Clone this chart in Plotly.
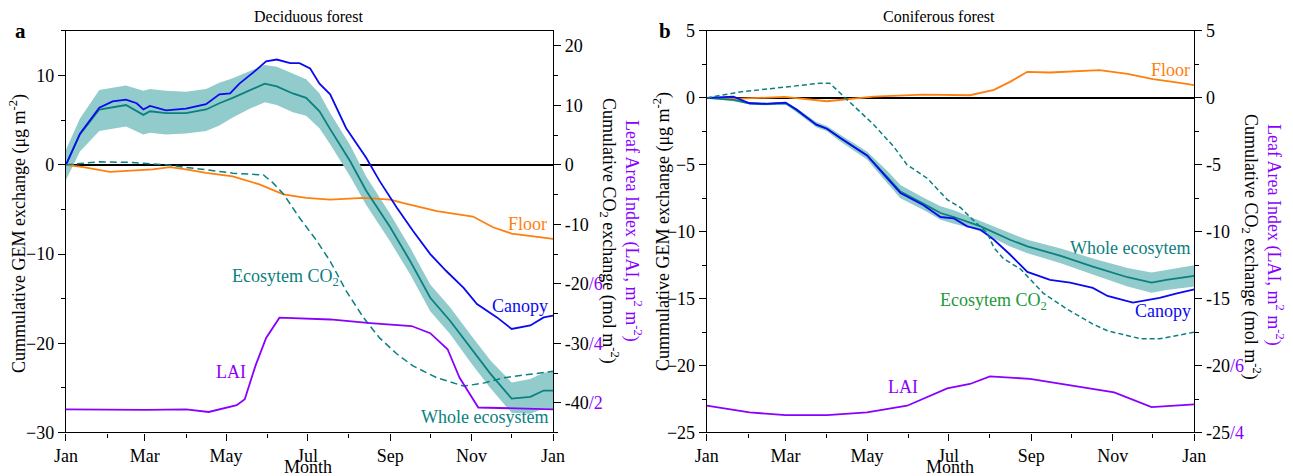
import plotly.graph_objects as go
import pandas as pd

# ---------------- Deciduous forest (panel a) ----------------
dec_we_day = [0, 10.5, 25, 45, 58, 63, 75, 90, 105, 115, 125, 138, 149, 158, 170, 180, 190, 198,
              213, 225, 243, 258, 273, 288, 303, 318, 334, 348, 358, 365]
dec_we = [0, 3.4, 6.2, 6.7, 5.6, 6.0, 5.8, 5.8, 6.2, 6.9, 7.5, 8.4, 9.1, 8.8, 8.0, 7.5, 6.0, 4.0,
          0.4, -2.9, -7.0, -10.8, -14.9, -17.5, -20.5, -23.4, -26.2, -26.0, -25.3, -25.3]
dec_we_up = [1.7, 5.2, 8.4, 8.9, 8.3, 8.5, 8.3, 8.2, 8.5, 9.2, 9.7, 10.5, 11.2, 11.0, 10.2, 9.6, 8.0, 5.8,
             2.2, -1.3, -5.5, -9.3, -13.4, -16.0, -19.0, -21.9, -24.4, -24.0, -23.3, -23.2]
dec_we_lo = [-1.7, 1.5, 3.8, 4.3, 3.4, 3.6, 3.4, 3.5, 3.8, 4.4, 5.3, 6.3, 7.0, 6.7, 5.9, 5.5, 4.1, 2.3,
             -1.3, -4.5, -8.6, -12.3, -16.4, -19.0, -22.1, -25.0, -27.8, -27.9, -27.3, -27.4]

dec_can_day = [0, 10.5, 25, 35, 45, 53, 58, 63, 75, 90, 105, 115, 123, 130, 140, 150, 158, 168, 175, 183,
               190, 198, 210, 225, 235, 248, 260, 273, 285, 298, 308, 323, 334, 348, 358, 365]
dec_can = [0, 3.5, 6.4, 7.1, 7.3, 6.9, 6.2, 6.6, 6.1, 6.3, 6.8, 7.9, 8.0, 9.1, 10.3, 11.6, 11.8, 11.4, 11.4, 10.8,
           9.1, 7.9, 4.1, 0.8, -1.8, -4.8, -7.4, -10.0, -11.9, -13.8, -15.6, -17.1, -18.4, -18.0, -17.1, -16.9]

dec_floor_day = [0, 13, 33, 50, 65, 78, 90, 105, 125, 145, 163, 180, 198, 223, 243, 253, 278, 305, 320, 334, 348, 365]
dec_floor = [0, -0.25, -0.8, -0.6, -0.5, -0.25, -0.5, -0.9, -1.3, -2.2, -3.3, -3.7, -3.9, -3.7, -3.9, -4.3,
             -5.2, -5.8, -7.0, -7.7, -8.0, -8.3]

dec_co2_day = [0, 25, 50, 75, 100, 125, 148, 155, 163, 175, 188, 198, 210, 223, 235, 248, 260, 278, 298,
               313, 328, 348, 365]
dec_co2 = [0, 0.5, 0.4, 0, -0.7, -1.4, -1.7, -3.0, -4.9, -8.9, -12.8, -16.2, -21.2, -25.7, -29.1, -31.8,
           -33.8, -35.8, -37.2, -36.7, -35.8, -35.2, -34.7]

dec_lai_day = [0, 60, 90, 107, 128, 134, 142, 150, 160, 198, 228, 259, 273, 286, 295, 309, 365]
dec_lai = [1.78, 1.76, 1.78, 1.69, 1.92, 2.12, 3.24, 4.18, 4.86, 4.8, 4.68, 4.58, 4.34, 3.8, 2.84, 1.84, 1.78]

# ---------------- Coniferous forest (panel b) ----------------
con_we_day = [0, 20, 32, 45, 59, 67, 82, 90, 100, 120, 135, 145, 162, 175, 185, 197, 205, 227, 240, 265,
              289, 315, 333, 344, 365]
con_we = [0, -0.15, -0.4, -0.45, -0.4, -0.9, -2.0, -2.3, -3.0, -4.3, -5.9, -7.0, -7.9, -8.6, -8.9, -9.3,
          -9.6, -10.6, -11.1, -11.8, -12.6, -13.4, -13.8, -13.6, -13.3]
con_we_up = [0.05, -0.05, -0.3, -0.35, -0.3, -0.75, -1.8, -2.1, -2.75, -4.0, -5.45, -6.5, -7.45, -8.1, -8.4,
             -8.9, -9.2, -10.1, -10.6, -11.25, -12.0, -12.7, -13.05, -12.85, -12.5]
con_we_lo = [-0.05, -0.25, -0.5, -0.55, -0.5, -1.05, -2.2, -2.5, -3.25, -4.6, -6.35, -7.5, -8.35, -9.1, -9.4,
             -9.7, -10.0, -11.1, -11.6, -12.35, -13.2, -14.1, -14.55, -14.35, -14.1]

con_can_day = [0, 20, 32, 45, 59, 67, 82, 90, 100, 120, 135, 145, 162, 175, 185, 195, 205, 215, 227, 240,
               257, 272, 289, 300, 319, 339, 352, 365]
con_can = [0, 0.1, -0.4, -0.45, -0.35, -0.85, -2.0, -2.3, -3.0, -4.3, -6.0, -7.1, -8.0, -8.9, -9.0, -9.6,
           -9.85, -10.6, -11.7, -13.0, -13.6, -13.8, -14.2, -14.8, -15.3, -14.95, -14.6, -14.3]

con_floor_day = [0, 25, 58, 90, 125, 162, 197, 215, 227, 240, 257, 274, 294, 315, 334, 349, 365]
con_floor = [0, -0.05, 0.07, -0.25, 0.1, 0.25, 0.2, 0.6, 1.2, 1.95, 1.9, 2.0, 2.07, 1.8, 1.4, 1.2, 0.95]

con_co2_day = [0, 25, 58, 85, 92, 105, 125, 140, 150, 165, 180, 190, 197, 210, 215, 222, 235, 252, 270,
               289, 300, 325, 339, 365]
con_co2 = [0, 0.45, 0.8, 1.1, 1.1, -0.15, -2.0, -3.65, -5.0, -6.0, -7.6, -8.2, -8.9, -10.1, -11.2, -12.0,
           -12.8, -14.6, -15.8, -16.9, -17.4, -18.0, -18.0, -17.5]

con_lai_day = [0, 32, 59, 90, 120, 150, 180, 197, 212, 242, 305, 333, 365]
con_lai = [4.8, 4.6, 4.52, 4.52, 4.6, 4.8, 5.32, 5.45, 5.68, 5.6, 5.2, 4.76, 4.84]

# ---------------- axis ticks ----------------
month_ticks = ["2014-01-01", "2014-03-01", "2014-05-01", "2014-07-01", "2014-09-01", "2014-11-01", "2015-01-01"]
month_labels = ["Jan", "Mar", "May", "Jul", "Sep", "Nov", "Jan"]
month_minor = ["2014-02-01", "2014-04-01", "2014-06-01", "2014-08-01", "2014-10-01", "2014-12-01"]

dec_gem_ticks = [-30, -20, -10, 0, 10]
dec_gem_minor = [-25, -15, -5, 5, 15]
dec_co2_ticks = [-40, -30, -20, -10, 0, 10, 20]
dec_co2_minor = [-45, -35, -25, -15, -5, 5, 15]
dec_lai_marks = {-40: "2", -30: "4", -20: "6"}

con_gem_ticks = [-25, -20, -15, -10, -5, 0, 5]
con_gem_minor = [-22.5, -17.5, -12.5, -7.5, -2.5, 2.5]
con_lai_marks = {-25: "4", -20: "6"}

BLUE = "#0a0af0"
ORANGE = "#ff7f0e"
TEAL = "#0b8080"
BAND = "rgb(145,203,203)"
PURPLE = "#8a00ff"
GREEN = "#22993a"
FONT = "Liberation Serif"


def d(days):
    return list(pd.Timestamp("2014-01-01") + pd.to_timedelta(days, unit="D"))


def tt(ticks, marks):
    out = []
    for t in ticks:
        s = f"{t:g}"
        if t in marks:
            s += f'<span style="color:{PURPLE}">/{marks[t]}</span>'
        out.append(s)
    return out


fig = go.Figure()


def add_panel(xa, ya_gem, ya_co2, ya_lai, we_day, we, up, lo, can_day, can, fl_day, fl,
              co2_day, co2, lai_day, lai, dash):
    fig.add_trace(go.Scatter(x=d(we_day), y=up, xaxis=xa, yaxis=ya_gem, mode="lines",
                             line=dict(width=0, color=BAND), hoverinfo="skip", showlegend=False))
    fig.add_trace(go.Scatter(x=d(we_day), y=lo, xaxis=xa, yaxis=ya_gem, mode="lines", fill="tonexty",
                             fillcolor=BAND, line=dict(width=0, color=BAND), showlegend=False))
    fig.add_trace(go.Scatter(x=d(fl_day), y=fl, xaxis=xa, yaxis=ya_gem, mode="lines",
                             line=dict(color=ORANGE, width=1.8), showlegend=False))
    fig.add_trace(go.Scatter(x=d(we_day), y=we, xaxis=xa, yaxis=ya_gem, mode="lines",
                             line=dict(color=TEAL, width=1.8), showlegend=False))
    fig.add_trace(go.Scatter(x=d(can_day), y=can, xaxis=xa, yaxis=ya_gem, mode="lines",
                             line=dict(color=BLUE, width=1.8), showlegend=False))
    fig.add_trace(go.Scatter(x=d(co2_day), y=co2, xaxis=xa, yaxis=ya_co2, mode="lines",
                             line=dict(color=TEAL, width=1.5, dash=dash), showlegend=False))
    fig.add_trace(go.Scatter(x=d(lai_day), y=lai, xaxis=xa, yaxis=ya_lai, mode="lines",
                             line=dict(color=PURPLE, width=1.8), showlegend=False))


add_panel("x", "y", "y2", "y3", dec_we_day, dec_we, dec_we_up, dec_we_lo, dec_can_day, dec_can,
          dec_floor_day, dec_floor, dec_co2_day, dec_co2, dec_lai_day, dec_lai, "7px,4px")
add_panel("x2", "y4", "y5", "y6", con_we_day, con_we, con_we_up, con_we_lo, con_can_day, con_can,
          con_floor_day, con_floor, con_co2_day, con_co2, con_lai_day, con_lai, "5px,3px")

tickfont = dict(family=FONT, size=18, color="black")
ydom = [0.0914, 0.9349]

xcommon = dict(type="date", range=["2014-01-01", "2015-01-01"], tickmode="array", tickvals=month_ticks,
               ticktext=month_labels, ticks="outside", ticklen=7, tickwidth=1.2, tickcolor="black",
               minor=dict(tickvals=month_minor, ticks="outside", ticklen=4, tickcolor="black"),
               showline=True, linecolor="black", linewidth=1.2, mirror=True, showgrid=False,
               zeroline=False, tickfont=tickfont, automargin=False)

ycommon = dict(tickmode="array", ticks="outside", ticklen=7, tickwidth=1.2, tickcolor="black",
               showline=True, linecolor="black", linewidth=1.2, showgrid=False, tickfont=tickfont,
               automargin=False)

fig.update_layout(
    width=1293, height=476, margin=dict(l=0, r=0, t=0, b=0, autoexpand=False),
    paper_bgcolor="white", plot_bgcolor="white", showlegend=False,
    font=dict(family=FONT, size=18, color="black"),
    xaxis=dict(domain=[0.051, 0.4277], anchor="y", **xcommon),
    xaxis2=dict(domain=[0.5466, 0.9237], anchor="y4", **xcommon),
    yaxis=dict(domain=ydom, anchor="x", range=[-30, 15], tickvals=dec_gem_ticks,
               minor=dict(tickvals=dec_gem_minor, ticks="outside", ticklen=4, tickcolor="black"),
               zeroline=True, zerolinecolor="black", zerolinewidth=1.5, **ycommon),
    yaxis2=dict(anchor="x", overlaying="y", side="right", range=[-45, 22.5], tickvals=dec_co2_ticks,
                ticktext=tt(dec_co2_ticks, dec_lai_marks),
                minor=dict(tickvals=dec_co2_minor, ticks="outside", ticklen=4, tickcolor="black"),
                zeroline=False, **ycommon),
    yaxis3=dict(anchor="x", overlaying="y", range=[1, 14.5], visible=False),
    yaxis4=dict(domain=ydom, anchor="x2", range=[-25, 5], tickvals=con_gem_ticks,
                minor=dict(tickvals=con_gem_minor, ticks="outside", ticklen=4, tickcolor="black"),
                zeroline=True, zerolinecolor="black", zerolinewidth=1.5, **ycommon),
    yaxis5=dict(anchor="x2", overlaying="y4", side="right", range=[-25, 5], tickvals=con_gem_ticks,
                ticktext=tt(con_gem_ticks, con_lai_marks),
                minor=dict(tickvals=con_gem_minor, ticks="outside", ticklen=4, tickcolor="black"),
                zeroline=False, **ycommon),
    yaxis6=dict(anchor="x2", overlaying="y4", range=[4, 16], visible=False),
)

ann = []


def A(text, x, y, xref="paper", yref="paper", color="black", size=18, xanchor="center",
      yanchor="middle", angle=0):
    ann.append(dict(text=text, x=x, y=y, xref=xref, yref=yref, showarrow=False,
                    font=dict(family=FONT, size=size, color=color), xanchor=xanchor,
                    yanchor=yanchor, textangle=angle))


W, H = 1293, 476
# titles and panel letters
A("Deciduous forest", 308 / W, 1 - 17 / H, size=16)
A("Coniferous forest", 939 / W, 1 - 17 / H, size=16)
A("<b>a</b>", 20 / W, 1 - 31 / H, size=21)
A("<b>b</b>", 665 / W, 1 - 31 / H, size=21)
A("Month", 308 / W, 1 - 467 / H)
A("Month", 950 / W, 1 - 467 / H)
# axis titles
A("Cummulative GEM exchange (μg m<sup>-2</sup>)", 18 / W, 1 - 234 / H, angle=-90)
A("Cummulative GEM exchange (μg m<sup>-2</sup>)", 662 / W, 1 - 232 / H, angle=-90)
A("Cumulative CO<sub>2</sub> exchange (mol m<sup>-2</sup>)", 610 / W, 1 - 231 / H, angle=90)
A("Leaf Area Index (LAI, m<sup>2</sup> m<sup>-2</sup>)", 633 / W, 1 - 231 / H, angle=90, color=PURPLE)
A("Cumulative CO<sub>2</sub> exchange (mol m<sup>-2</sup>)", 1252 / W, 1 - 247 / H, angle=90)
A("Leaf Area Index (LAI, m<sup>2</sup> m<sup>-2</sup>)", 1275 / W, 1 - 235 / H, angle=90, color=PURPLE)

# series labels, panel a
A("Floor", d([362])[0], -6.6, "x", "y", ORANGE, xanchor="right")
A("Canopy", d([363])[0], -15.8, "x", "y", BLUE, xanchor="right")
A("Whole ecosystem", d([363])[0], -28.3, "x", "y", TEAL, xanchor="right")
A("Ecosytem CO<sub>2</sub>", d([123])[0], -12.6, "x", "y", TEAL, xanchor="left")
A("LAI", d([124])[0], -23.2, "x", "y", PURPLE)
# series labels, panel b
A("Floor", d([363])[0], 2.1, "x2", "y4", ORANGE, xanchor="right")
A("Whole ecosytem", d([363])[0], -11.2, "x2", "y4", TEAL, xanchor="right")
A("Canopy", d([364])[0], -15.9, "x2", "y4", BLUE, xanchor="right")
A("Ecosytem CO<sub>2</sub>", d([173])[0], -15.2, "x2", "y4", GREEN, xanchor="left")
A("LAI", d([147])[0], -21.6, "x2", "y4", PURPLE)

fig.update_layout(annotations=ann)
fig.write_html("out.html")
